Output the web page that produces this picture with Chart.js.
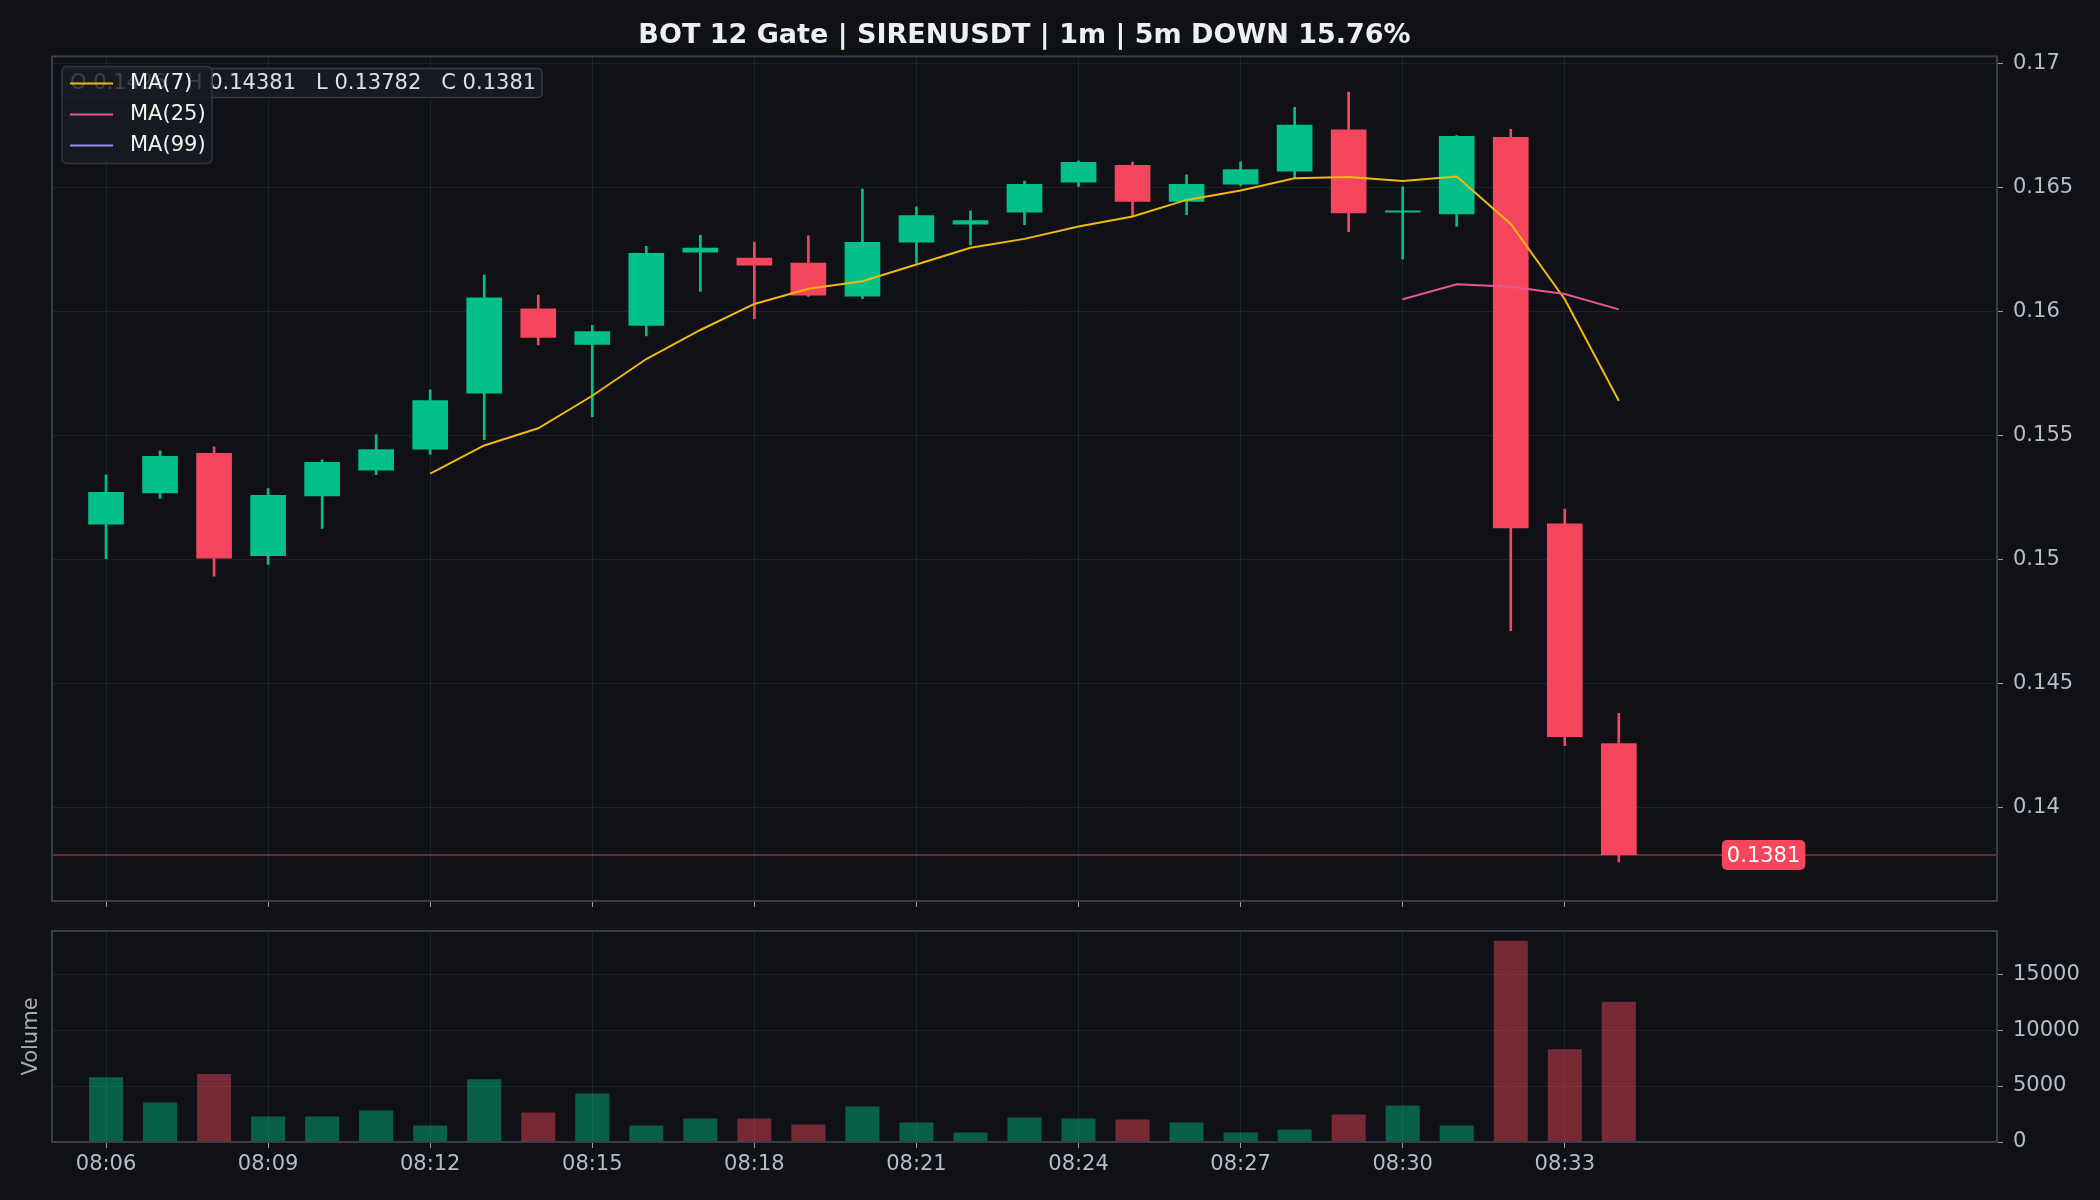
<!DOCTYPE html>
<html>
<head>
<meta charset="utf-8">
<script src="https://cdn.jsdelivr.net/npm/chart.js@4.4.1/dist/chart.umd.min.js"></script>
<style>
  html, body { margin: 0; padding: 0; background: #0f1117; }
  #wrap { position: relative; width: 2100px; height: 1200px; background: #0f1117; overflow: hidden; }
  #main { position: absolute; left: 0; top: 0; }
  #vol { position: absolute; left: 0; top: 925px; }
</style>
</head>
<body>
<div id="wrap">
  <canvas id="main" width="2100" height="925"></canvas>
  <canvas id="vol" width="2100" height="275"></canvas>
</div>
<script>
// ---------------- DATA ----------------
const TITLE = 'BOT 12 Gate | SIRENUSDT | 1m | 5m DOWN 15.76%';
const times = ['08:06','08:07','08:08','08:09','08:10','08:11','08:12','08:13','08:14','08:15',
               '08:16','08:17','08:18','08:19','08:20','08:21','08:22','08:23','08:24','08:25',
               '08:26','08:27','08:28','08:29','08:30','08:31','08:32','08:33','08:34'];
const opens  = [0.15142,0.15267,0.15430,0.15015,0.15255,0.15359,0.15444,0.15669,0.16012,0.15866,
                0.15942,0.16237,0.16216,0.16196,0.16060,0.16277,0.16350,0.16398,0.16519,0.16590,
                0.16442,0.16511,0.16563,0.16733,0.16398,0.16391,0.16702,0.15146,0.1426];
const highs  = [0.15342,0.15438,0.15454,0.15286,0.15402,0.15503,0.15684,0.16146,0.16066,0.15944,
                0.16262,0.16306,0.16279,0.16304,0.16493,0.16421,0.16405,0.16525,0.16606,0.16601,
                0.16550,0.16602,0.16822,0.16883,0.16502,0.16708,0.16733,0.15204,0.14381];
const lows   = [0.15004,0.15247,0.14933,0.14981,0.15126,0.15342,0.15424,0.15483,0.15865,0.15576,
                0.15901,0.16080,0.15971,0.16060,0.16051,0.16194,0.16268,0.16349,0.16503,0.16382,
                0.16389,0.16505,0.16536,0.16321,0.16210,0.16342,0.14714,0.14251,0.13782];
const closes = [0.15272,0.15417,0.15005,0.15260,0.15393,0.15445,0.15642,0.16056,0.15894,0.15920,
                0.16235,0.16256,0.16185,0.16064,0.16279,0.16387,0.16367,0.16513,0.16602,0.16442,
                0.16513,0.16572,0.16752,0.16395,0.16401,0.16706,0.15126,0.14286,0.1381];
const volumes = [5780,3530,6080,2280,2280,2810,1470,5600,2640,4340,
                 1470,2100,2100,1560,3170,1740,840,2190,2100,2010,
                 1740,840,1110,2460,3260,1470,17990,8290,12520];
const ma7  = [null,null,null,null,null,null,0.15346,0.15460,0.15529,0.15660,
              0.15808,0.15925,0.16030,0.16091,0.16121,0.16189,0.16256,0.16292,0.16342,0.16382,
              0.16449,0.16487,0.16536,0.16541,0.16525,0.16543,0.16352,0.16049,0.15640];
const ma25 = [null,null,null,null,null,null,null,null,null,null,
              null,null,null,null,null,null,null,null,null,null,
              null,null,null,null,0.16049,0.16109,0.16099,0.16070,0.16008];
const ma99 = times.map(() => null);
const priceTicks = [0.14, 0.145, 0.15, 0.155, 0.16, 0.165, 0.17];
const volTicks = [0, 5000, 10000, 15000];
const timeTickIdx = [0, 3, 6, 9, 12, 15, 18, 21, 24, 27];

// ---------------- AXIS BOUNDS / STYLE ----------------
const X_MIN = -1, X_MAX = 35;
const PRICE_MIN = 0.13625, PRICE_MAX = 0.17027;
const VOL_MAX = 18850;

const UP = '#02c087', DOWN = '#f6465d';
const UP_VOL = 'rgba(2,192,135,0.45)', DOWN_VOL = 'rgba(246,70,93,0.45)';
const GRID = 'rgba(80,85,95,0.25)';
const FRAME = '#3a3d45';
const TICK = '#b8bcc4';
const TICKMARK = '#9a9ea6';
const MA_COLORS = ['#f0b90b', '#e5559a', '#9c8cf5'];

Chart.defaults.font.family = "'DejaVu Sans', sans-serif";
Chart.defaults.color = TICK;

const idx = times.map((_, i) => i);
const last = times.length - 1;
const isUp = idx.map(i => closes[i] >= opens[i]);
const candleColor = idx.map(i => isUp[i] ? UP : DOWN);
const volColor = idx.map(i => isUp[i] ? UP_VOL : DOWN_VOL);

function rr(ctx, x, y, w, h, r) {
  ctx.beginPath();
  if (ctx.roundRect) ctx.roundRect(x, y, w, h, r);
  else ctx.rect(x, y, w, h);
}

const framePlugin = {
  id: 'frame',
  afterDraw(chart) {
    const { ctx, chartArea: a } = chart;
    ctx.save();
    ctx.strokeStyle = FRAME;
    ctx.lineWidth = 2;
    ctx.strokeRect(a.left, a.top, a.right - a.left, a.bottom - a.top);
    ctx.restore();
  }
};

const priceLinePlugin = {
  id: 'priceLine',
  afterDatasetsDraw(chart) {
    const { ctx, chartArea: a, scales } = chart;
    const y = scales.y.getPixelForValue(closes[last]);
    ctx.save();
    ctx.strokeStyle = 'rgba(246,70,93,0.55)';
    ctx.lineWidth = 1.5;
    ctx.beginPath();
    ctx.moveTo(a.left, y);
    ctx.lineTo(a.right, y);
    ctx.stroke();
    ctx.restore();
  }
};

const overlayPlugin = {
  id: 'overlay',
  afterDraw(chart) {
    const { ctx, chartArea: a, scales } = chart;
    ctx.save();
    ctx.font = "21px 'DejaVu Sans'";
    ctx.textBaseline = 'middle';
    // OHLC info box
    const info = `O ${opens[last]}   H ${highs[last]}   L ${lows[last]}   C ${closes[last]}`;
    const iw = ctx.measureText(info).width + 14;
    const ix = a.left + 10, iy = a.top + 12;
    rr(ctx, ix, iy, iw, 29, 4);
    ctx.fillStyle = '#161a21';
    ctx.fill();
    ctx.strokeStyle = '#343842';
    ctx.lineWidth = 1.5;
    ctx.stroke();
    ctx.fillStyle = '#dde0e6';
    ctx.textAlign = 'left';
    ctx.fillText(info, ix + 8, iy + 15);

    // Legend box
    const lx = a.left + 10, ly = a.top + 10;
    const maSets = chart.data.datasets.filter(d => d.label.startsWith('MA'));
    rr(ctx, lx, ly, 150, 97, 5);
    ctx.fillStyle = 'rgba(24,27,34,0.82)';
    ctx.fill();
    ctx.strokeStyle = '#30343d';
    ctx.lineWidth = 1.5;
    ctx.stroke();
    maSets.forEach((d, k) => {
      const yy = ly + 17 + k * 31;
      ctx.strokeStyle = d.borderColor;
      ctx.lineWidth = 2;
      ctx.beginPath();
      ctx.moveTo(lx + 8, yy);
      ctx.lineTo(lx + 51, yy);
      ctx.stroke();
      ctx.fillStyle = '#f0f2f5';
      ctx.fillText(d.label, lx + 68, yy);
    });

    // Last price label
    const py = scales.y.getPixelForValue(closes[last]);
    const txt = String(closes[last]);
    const tw = ctx.measureText(txt).width + 10;
    const cx = a.left + 0.88 * (a.right - a.left);
    rr(ctx, cx - tw / 2, py - 15, tw, 30, 5);
    ctx.fillStyle = DOWN;
    ctx.fill();
    ctx.fillStyle = '#ffffff';
    ctx.textAlign = 'center';
    ctx.fillText(txt, cx, py + 1);
    ctx.restore();
  }
};

const gridOpts = { color: GRID, offset: false, tickLength: 6, tickColor: TICKMARK, lineWidth: 1 };

// ---------------- MAIN CHART ----------------
new Chart(document.getElementById('main'), {
  type: 'bar',
  data: {
    datasets: [
      { label: 'Wick', type: 'bar', data: idx.map(i => ({ x: i, y: [lows[i], highs[i]] })),
        backgroundColor: candleColor, barThickness: 2, grouped: false, order: 3 },
      { label: 'Body', type: 'bar', data: idx.map(i => ({ x: i, y: [opens[i], closes[i]] })),
        backgroundColor: candleColor, barPercentage: 0.66, categoryPercentage: 1,
        grouped: false, minBarLength: 2, order: 2 },
      { label: 'MA(7)', type: 'line', data: idx.map(i => ({ x: i, y: ma7[i] })),
        borderColor: MA_COLORS[0], borderWidth: 2, pointRadius: 0, order: 1 },
      { label: 'MA(25)', type: 'line', data: idx.map(i => ({ x: i, y: ma25[i] })),
        borderColor: MA_COLORS[1], borderWidth: 2, pointRadius: 0, order: 0 },
      { label: 'MA(99)', type: 'line', data: idx.map(i => ({ x: i, y: ma99[i] })),
        borderColor: MA_COLORS[2], borderWidth: 2, pointRadius: 0, order: 0 }
    ]
  },
  options: {
    responsive: false,
    animation: false,
    layout: { padding: { left: 52, right: 0, top: 0, bottom: 0 } },
    plugins: {
      legend: { display: false },
      tooltip: { enabled: false },
      title: { display: true, text: TITLE, fullSize: false, color: '#eceff4',
               font: { size: 27, weight: 'bold' }, padding: { top: 19.5, bottom: 4.5 } }
    },
    scales: {
      x: {
        type: 'linear', min: X_MIN, max: X_MAX, offset: false, z: 1,
        grid: gridOpts, border: { display: false },
        ticks: { display: false },
        afterBuildTicks: ax => { ax.ticks = timeTickIdx.map(v => ({ value: v })); },
        afterFit: ax => { ax.height = 24; }
      },
      y: {
        type: 'linear', position: 'right', min: PRICE_MIN, max: PRICE_MAX, z: 1,
        grid: gridOpts, border: { display: false },
        ticks: { color: TICK, font: { size: 21 }, padding: 10,
                 callback: v => String(+Number(v).toFixed(4)) },
        afterBuildTicks: ax => { ax.ticks = priceTicks.map(v => ({ value: v })); },
        afterFit: ax => { ax.width = 103; ax.paddingTop = 0; ax.paddingBottom = 0; }
      }
    }
  },
  plugins: [priceLinePlugin, framePlugin, overlayPlugin]
});

// ---------------- VOLUME CHART ----------------
new Chart(document.getElementById('vol'), {
  type: 'bar',
  data: {
    datasets: [
      { label: 'Volume', data: idx.map(i => ({ x: i, y: volumes[i] })),
        backgroundColor: volColor, barPercentage: 0.63, categoryPercentage: 1, yAxisID: 'y' }
    ]
  },
  options: {
    responsive: false,
    animation: false,
    layout: { padding: { left: 0, right: 0, top: 6, bottom: 0 } },
    plugins: { legend: { display: false }, tooltip: { enabled: false } },
    scales: {
      x: {
        type: 'linear', min: X_MIN, max: X_MAX, offset: false, z: 1,
        grid: gridOpts, border: { display: false },
        ticks: { color: TICK, font: { size: 21 }, padding: 4, maxRotation: 0, autoSkip: false,
                 callback: v => times[v] ?? '' },
        afterBuildTicks: ax => { ax.ticks = timeTickIdx.map(v => ({ value: v })); },
        afterFit: ax => { ax.height = 58; ax.paddingLeft = 0; ax.paddingRight = 0; }
      },
      y: {
        type: 'linear', position: 'right', min: 0, max: VOL_MAX, z: 1,
        grid: gridOpts, border: { display: false },
        ticks: { color: TICK, font: { size: 21 }, padding: 10, callback: v => String(v) },
        afterBuildTicks: ax => { ax.ticks = volTicks.map(v => ({ value: v })); },
        afterFit: ax => { ax.width = 103; ax.paddingTop = 0; ax.paddingBottom = 0; }
      },
      yl: {
        type: 'linear', position: 'left', display: true,
        grid: { display: false }, border: { display: false },
        ticks: { display: false },
        title: { display: true, text: 'Volume', color: '#a8acb4', font: { size: 21 },
                 padding: { top: 19, bottom: 0 } },
        afterFit: ax => { ax.width = 52; ax.paddingTop = 0; ax.paddingBottom = 0; }
      }
    }
  },
  plugins: [framePlugin]
});
</script>
</body>
</html>
